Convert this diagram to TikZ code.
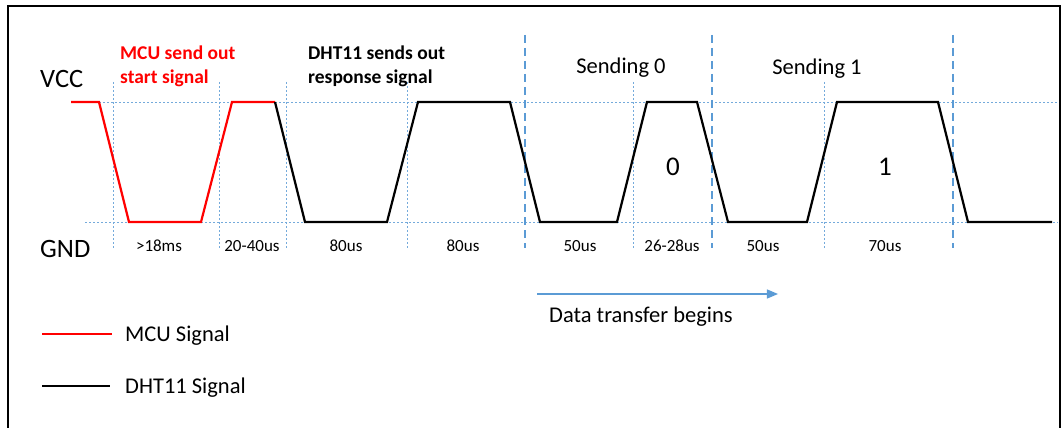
\documentclass[tikz,border=0pt]{standalone}
\usepackage{fontspec}
\setmainfont{Carlito}
\usetikzlibrary{arrows}
\usetikzlibrary{positioning}
\definecolor{mcured}{RGB}{255,0,0}
\definecolor{gridblue}{RGB}{91,155,213}
\tikzset{mcu/.style={draw=mcured, line width=2.2pt},
dht/.style={draw=black, line width=2.2pt},
grid/.style={draw=gridblue!85, line width=0.6pt, dash pattern=on 2pt off 2pt},
phase/.style={draw=gridblue, line width=2.6pt, dash pattern=on 8pt off 5pt},
flow/.style={draw=gridblue, line width=1.6pt},
level/.style={anchor=base west, inner sep=0pt, font=\fontsize{26.5}{30}\selectfont},
heading/.style={anchor=north west, inner sep=0pt, align=left, font=\fontsize{19.5}{24}\selectfont\bfseries},
sending/.style={anchor=base, inner sep=0pt, font=\fontsize{22.5}{26}\selectfont},
bit/.style={anchor=base, inner sep=0pt, font=\fontsize{27}{30}\selectfont},
timing/.style={anchor=base, inner sep=0pt, font=\fontsize{17}{20}\selectfont},
legend/.style={anchor=base west, inner sep=0pt, font=\fontsize{22.5}{26}\selectfont},
>={triangle 45}}

\begin{document}
\begin{tikzpicture}[x=1pt,y=-1pt]
  \useasboundingbox (0,0) rectangle (1061,428);
  \draw [line width=2pt] (8,440) -- (8,6) -- (1059.5,6) -- (1059.5,440);

  \draw [grid] (99,102) -- (1058,102);
  \draw [grid] (85,222) -- (1058,222);
  \foreach \x in {113,219,286,407,633,824}
    \draw [grid] (\x,82) -- (\x,248);
  \foreach \x in {525,712,953}
    \draw [phase] (\x,35) -- (\x,248);

  \draw [mcu] (71,102) -- (99,102) -- (129,222) -- (201,222) -- (232,102) -- (275,102);
  \draw [dht] (275,102) -- (305,222) -- (387,222) -- (418,102) -- (510,102)
    -- (540,222) -- (617,222) -- (647,102) -- (697,102) -- (728,222) -- (807,222)
    -- (837,102) -- (938,102) -- (968,222) -- (1052,222);

  \node (vcc) [level] at (40,88) {VCC};
  \node (gnd) [level] at (40,257) {GND};
  \node (mcuhead) [heading, text=mcured] at (120,46) {MCU send out\\start signal};
  \node (dhthead) [heading] at (308,46) {DHT11 sends out\\response signal};
  \node (send0) [sending] at (621,74) {Sending 0};
  \node (send1) [sending] at (817,75) {Sending 1};
  \node (bit0) [bit] at (673,175) {0};
  \node (bit1) [bit] at (885,175) {1};

  \node (t1) [timing] at (159,251) {>18ms};
  \node (t2) [timing] at (252,251) {20-40us};
  \node (t3) [timing] at (346,251) {80us};
  \node (t4) [timing] at (463,251) {80us};
  \node (t5) [timing] at (580,251) {50us};
  \node (t6) [timing] at (672,251) {26-28us};
  \node (t7) [timing] at (763,251) {50us};
  \node (t8) [timing] at (885,251) {70us};

  \coordinate (dtstart) at (537,294);
  \coordinate (dtend) at (778,294);
  \draw [flow,->] (dtstart) -- (dtend);
  \node (dtlabel) [legend] at (549,322) {Data transfer begins};

  \node (legmcu) [legend] at (125,341) {MCU Signal};
  \node (legdht) [legend] at (125,393) {DHT11 Signal};
  \coordinate (mculine) at (42,334);
  \coordinate (dhtline) at (42,386);
  \draw [mcu, line width=1.6pt] (mculine) -- ++(70,0);
  \draw [dht, line width=1.6pt] (dhtline) -- ++(68,0);
\end{tikzpicture}
\end{document}
